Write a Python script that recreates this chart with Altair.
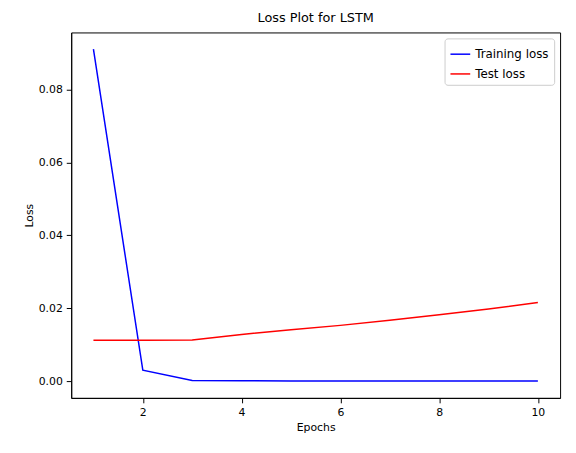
import altair as alt
import pandas as pd

epochs = [1, 2, 3, 4, 5, 6, 7, 8, 9, 10]
train_loss = [0.0911, 0.0030, 0.0002, 0.0001, 0.00005, 0.00003, 0.00002, 0.00002, 0.00001, 0.00001]
test_loss = [0.0112, 0.0112, 0.0113, 0.0128, 0.0141, 0.0153, 0.0167, 0.0182, 0.0198, 0.0216]

df = pd.concat([
    pd.DataFrame({"Epochs": epochs, "Loss": train_loss, "Series": "Training loss"}),
    pd.DataFrame({"Epochs": epochs, "Loss": test_loss, "Series": "Test loss"}),
])

chart = (
    alt.Chart(df)
    .mark_line(strokeWidth=1.5, clip=True)
    .encode(
        x=alt.X("Epochs:Q", scale=alt.Scale(domain=[0.55, 10.45], nice=False, zero=False),
                axis=alt.Axis(values=[2, 4, 6, 8, 10], format="d", grid=False)),
        y=alt.Y("Loss:Q", scale=alt.Scale(domain=[-0.0046, 0.0957], nice=False),
                axis=alt.Axis(values=[0, 0.02, 0.04, 0.06, 0.08], format=".2f", grid=False)),
        color=alt.Color("Series:N",
                        scale=alt.Scale(domain=["Training loss", "Test loss"], range=["blue", "red"]),
                        sort=["Training loss", "Test loss"],
                        legend=alt.Legend(title=None, orient="top-right", symbolType="stroke",
                                          symbolSize=400, symbolStrokeWidth=1.5,
                                          labelFontSize=12, strokeColor="#cccccc",
                                          fillColor="white", padding=5, cornerRadius=3,
                                          offset=6, rowPadding=3)),
    )
    .properties(width=495, height=370, title="Loss Plot for LSTM",
                autosize=alt.AutoSizeParams(type="none"),
                padding={"left": 64, "top": 22, "right": 8, "bottom": 50})
    .configure(font="DejaVu Sans")
    .configure_title(fontSize=13, fontWeight="normal", color="black", offset=8)
    .configure_axis(labelFontSize=11, titleFontSize=11, titleFontWeight="normal",
                    labelColor="black", titleColor="black", domainColor="black",
                    tickColor="black", labelPadding=4)
    .configure_view(stroke="black", strokeWidth=1)
)

chart.save("out.html", embed_options={"renderer": "svg", "actions": False})
